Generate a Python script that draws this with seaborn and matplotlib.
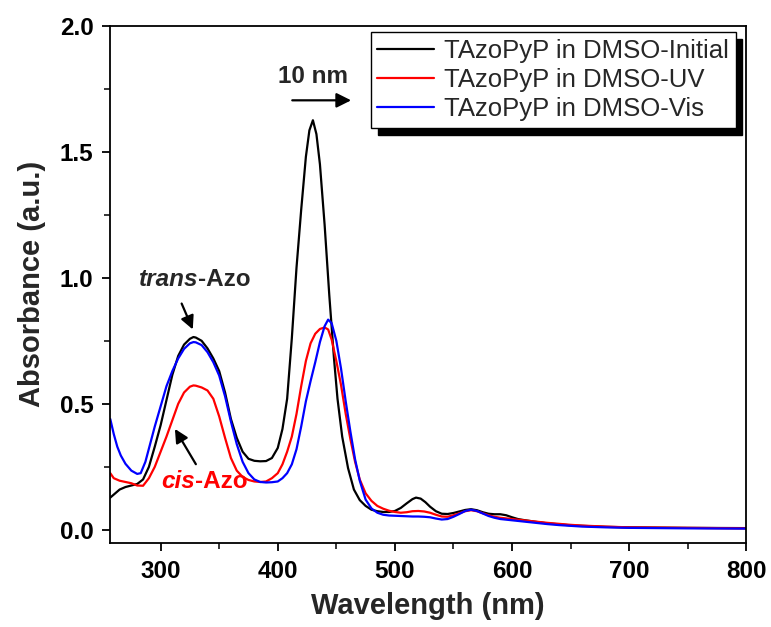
import matplotlib
matplotlib.use("Agg")
import matplotlib.pyplot as plt
import seaborn as sns
import pandas as pd
from matplotlib.lines import Line2D

# ---------------- data ----------------
wl_initial = [257, 260, 265, 270, 275, 280, 285, 290, 295, 300, 305, 310, 315, 320, 325, 328, 330,
              335, 340, 345, 350, 355, 360, 365, 370, 375, 380, 385, 390, 395, 400, 404, 408, 412,
              416, 420, 424, 427, 430, 433, 436, 440, 444, 448, 451, 455, 460, 465, 470, 475, 480,
              485, 490, 495, 500, 505, 510, 515, 518, 522, 526, 530, 535, 540, 545, 550, 555, 560,
              565, 570, 575, 580, 585, 590, 595, 600, 605, 610, 620, 630, 640, 650, 660, 680, 700,
              750, 800]
abs_initial = [0.128, 0.140, 0.160, 0.170, 0.176, 0.182, 0.200, 0.250, 0.330, 0.415, 0.515, 0.615,
               0.690, 0.735, 0.758, 0.765, 0.763, 0.750, 0.720, 0.680, 0.630, 0.545, 0.440, 0.365,
               0.310, 0.282, 0.274, 0.272, 0.273, 0.285, 0.325, 0.400, 0.520, 0.760, 1.040, 1.270,
               1.480, 1.585, 1.625, 1.570, 1.450, 1.210, 0.930, 0.680, 0.520, 0.370, 0.245, 0.160,
               0.118, 0.095, 0.080, 0.074, 0.071, 0.071, 0.075, 0.087, 0.105, 0.122, 0.128, 0.124,
               0.110, 0.092, 0.074, 0.064, 0.063, 0.067, 0.073, 0.079, 0.082, 0.078, 0.070, 0.064,
               0.062, 0.062, 0.058, 0.050, 0.043, 0.039, 0.032, 0.026, 0.022, 0.018, 0.016, 0.012,
               0.010, 0.008, 0.007]

wl_uv = [257, 260, 265, 270, 275, 280, 285, 290, 295, 300, 305, 310, 315, 320, 325, 328, 330, 335,
         340, 345, 350, 355, 360, 365, 370, 375, 380, 385, 390, 395, 400, 404, 408, 412, 416, 420,
         424, 428, 432, 436, 440, 443, 446, 450, 454, 458, 462, 466, 470, 475, 480, 485, 490, 495,
         500, 505, 510, 515, 520, 525, 530, 535, 540, 545, 550, 555, 560, 565, 570, 575, 580, 585,
         590, 600, 610, 620, 630, 640, 650, 660, 680, 700, 750, 800]
abs_uv = [0.225, 0.205, 0.195, 0.190, 0.185, 0.176, 0.175, 0.205, 0.250, 0.310, 0.370, 0.435,
          0.500, 0.545, 0.568, 0.573, 0.572, 0.565, 0.553, 0.520, 0.450, 0.365, 0.285, 0.235,
          0.210, 0.198, 0.192, 0.190, 0.192, 0.205, 0.225, 0.260, 0.310, 0.370, 0.460, 0.570,
          0.670, 0.740, 0.778, 0.797, 0.803, 0.795, 0.755, 0.670, 0.575, 0.460, 0.360, 0.270,
          0.200, 0.145, 0.115, 0.095, 0.084, 0.076, 0.071, 0.068, 0.070, 0.074, 0.075, 0.073,
          0.068, 0.060, 0.053, 0.052, 0.058, 0.066, 0.074, 0.078, 0.074, 0.066, 0.058, 0.052,
          0.048, 0.043, 0.038, 0.033, 0.028, 0.024, 0.020, 0.017, 0.013, 0.010, 0.008, 0.006]

wl_vis = [257, 260, 263, 266, 270, 275, 280, 283, 287, 291, 295, 300, 305, 310, 315, 320, 325, 328,
          330, 335, 340, 345, 350, 355, 360, 365, 370, 375, 380, 385, 390, 395, 400, 404, 408, 412,
          416, 420, 424, 428, 432, 436, 440, 443, 446, 450, 454, 458, 462, 466, 470, 475, 480, 485,
          490, 495, 500, 505, 510, 515, 520, 525, 530, 535, 540, 545, 550, 555, 560, 565, 570, 575,
          580, 585, 590, 600, 610, 620, 630, 640, 650, 660, 680, 700, 750, 800]
abs_vis = [0.440, 0.380, 0.330, 0.295, 0.262, 0.235, 0.222, 0.225, 0.270, 0.340, 0.410, 0.490,
           0.570, 0.630, 0.680, 0.718, 0.740, 0.745, 0.744, 0.733, 0.705, 0.665, 0.612, 0.530,
           0.430, 0.340, 0.270, 0.225, 0.200, 0.190, 0.188, 0.189, 0.192, 0.205, 0.225, 0.260,
           0.320, 0.410, 0.510, 0.590, 0.665, 0.745, 0.808, 0.834, 0.820, 0.750, 0.640, 0.510,
           0.390, 0.280, 0.195, 0.120, 0.085, 0.068, 0.060, 0.057, 0.056, 0.055, 0.054, 0.053,
           0.053, 0.052, 0.050, 0.045, 0.041, 0.043, 0.052, 0.063, 0.075, 0.080, 0.075, 0.065,
           0.055, 0.048, 0.043, 0.038, 0.033, 0.028, 0.023, 0.019, 0.016, 0.013, 0.010, 0.008,
           0.006, 0.005]

series_names = ["TAzoPyP in DMSO-Initial", "TAzoPyP in DMSO-UV", "TAzoPyP in DMSO-Vis"]
series_colors = ["#000000", "#ff0000", "#0000ff"]

x_ticks = [300, 400, 500, 600, 700, 800]
y_ticks = [0.0, 0.5, 1.0, 1.5, 2.0]

# ---------------- build table ----------------
frames = []
for name, wl, ab in zip(series_names, [wl_initial, wl_uv, wl_vis],
                        [abs_initial, abs_uv, abs_vis]):
    frames.append(pd.DataFrame({"Wavelength": wl, "Absorbance": ab, "Sample": name}))
df = pd.concat(frames, ignore_index=True)

# ---------------- plot ----------------
sns.set_theme(style="ticks")
plt.rcParams["font.family"] = ["Liberation Sans", "DejaVu Sans"]

fig = plt.figure(figsize=(7.71, 6.27), dpi=100)
ax = fig.add_axes([0.143, 0.134, 0.825, 0.825])

sns.lineplot(data=df, x="Wavelength", y="Absorbance", hue="Sample",
             palette=dict(zip(series_names, series_colors)), hue_order=series_names,
             sort=False, estimator=None, linewidth=1.6, ax=ax, legend=False)

ax.set_xlim(257, 800)
ax.set_ylim(-0.052, 2.0)
ax.set_xticks(x_ticks)
ax.set_xticklabels([str(t) for t in x_ticks])
ax.set_yticks(y_ticks)
ax.set_yticklabels([f"{t:.1f}" for t in y_ticks])
ax.set_xticks([350, 450, 550, 650, 750], minor=True)
ax.set_yticks([0.25, 0.75, 1.25, 1.75], minor=True)

for sp in ax.spines.values():
    sp.set_visible(True)
    sp.set_linewidth(1.3)
    sp.set_color("black")

ax.tick_params(axis="both", which="major", direction="out", length=6, width=1.3,
               labelsize=17.5, colors="black", pad=6)
ax.tick_params(axis="both", which="minor", direction="out", length=4, width=1.3)
for lab in ax.get_xticklabels() + ax.get_yticklabels():
    lab.set_fontweight("bold")

ax.set_xlabel("Wavelength (nm)", fontsize=21, fontweight="bold", labelpad=7)
ax.set_ylabel("Absorbance (a.u.)", fontsize=21, fontweight="bold", labelpad=10)

# legend
handles = [Line2D([0], [0], color=c, lw=1.6) for c in series_colors]
leg = ax.legend(handles, series_names, loc="upper right", bbox_to_anchor=(0.983, 0.987),
                fontsize=18.5, frameon=True, fancybox=False, framealpha=1,
                edgecolor="black", handlelength=2.2, labelspacing=0.2,
                borderpad=0.25, handletextpad=0.4, borderaxespad=0.0,
                shadow={"color": "black", "alpha": 1, "ox": 5, "oy": -5})
leg.get_frame().set_linewidth(1.0)

# annotations
ax.text(430, 1.80, "10 nm", ha="center", va="center", fontsize=17.5, fontweight="bold")
ax.annotate("", xy=(465, 1.704), xytext=(410, 1.704),
            arrowprops=dict(arrowstyle="-|>", color="black", lw=1.6,
                            mutation_scale=22))

ax.text(332, 0.994, "trans", ha="right", va="center", fontsize=17.5,
        fontweight="bold", fontstyle="italic")
ax.text(332, 0.994, "-Azo", ha="left", va="center", fontsize=17.5, fontweight="bold")
ax.annotate("", xy=(328.4, 0.785), xytext=(317, 0.908),
            arrowprops=dict(arrowstyle="-|>", color="black", lw=1.6, mutation_scale=20))

ax.text(329, 0.193, "cis", ha="right", va="center", fontsize=17.5,
        fontweight="bold", fontstyle="italic", color="#ff0000")
ax.text(329, 0.193, "-Azo", ha="left", va="center", fontsize=17.5, fontweight="bold",
        color="#ff0000")
ax.annotate("", xy=(311, 0.41), xytext=(331.3, 0.251),
            arrowprops=dict(arrowstyle="-|>", color="black", lw=1.6, mutation_scale=20))

fig.savefig("out.png", dpi=100)
